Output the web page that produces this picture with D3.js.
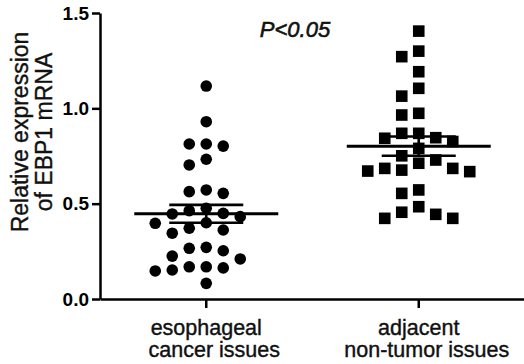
<!DOCTYPE html>
<html>
<head>
<meta charset="utf-8">
<script src="https://cdn.jsdelivr.net/npm/d3@7"></script>
<style>
  body { margin: 0; background: #fff; }
  text { font-family: "Liberation Sans", Arial, sans-serif; }
</style>
</head>
<body>
<svg id="chart" width="524" height="364"></svg>
<script>
// groups on the x axis
const categories = ["esophageal cancer issues", "adjacent non-tumor issues"]
const labelLines = [["esophageal", "cancer issues"], ["adjacent", "non-tumor issues"]]

// relative EBP1 mRNA per sample
const cancerValues = [1.117, 0.93, 0.813, 0.802, 0.813, 0.733, 0.703, 0.572, 0.554, 0.563,
    0.476, 0.449, 0.446, 0.463, 0.397, 0.371, 0.345, 0.362, 0.40, 0.432,
    0.266, 0.225, 0.21, 0.253, 0.271, 0.169, 0.152, 0.147, 0.163, 0.169, 0.082]
const normalValues = [1.405, 1.271, 1.30, 1.192, 1.105, 1.064, 0.974, 0.965, 0.843, 0.826,
    0.869, 0.869, 0.846, 0.79, 0.751, 0.729, 0.685, 0.671, 0.668, 0.676,
    0.685, 0.712, 0.572, 0.554, 0.484, 0.444, 0.423, 0.423, 0.455]

const yTicks = [0, 0.5, 1.0, 1.5]
const pText = "P<0.05"

const svg = d3.select("#chart")

const x = d3.scaleBand()
    .domain(categories)
    .range([100, 525])

const y = d3.scaleLinear()
    .domain([0, 1.5])
    .range([299, 13])

// simple column swarm, like the prism dot plot
function swarm(values, cx){
    const step = 17
    const minDist = 13.5
    const placed = []
    const sorted = values.slice().sort((a, b) => b - a)
    sorted.forEach(v => {
        const py = y(v)
        for (let k = 0; k < 20; k++){
            const slot = k === 0 ? 0 : (k % 2 === 1 ? -Math.ceil(k / 2) : Math.ceil(k / 2))
            const px = cx + slot * step
            const hit = placed.some(p => Math.hypot(p.x - px, p.y - py) < minDist)
            if (!hit){
                placed.push({x: px, y: py, v: v})
                break
            }
        }
    })
    return placed
}

const cx0 = x(categories[0]) + x.bandwidth() / 2
const cx1 = x(categories[1]) + x.bandwidth() / 2

const dots0 = swarm(cancerValues, cx0)
const dots1 = swarm(normalValues, cx1)

svg.append("g").selectAll("circle")
    .data(dots0)
    .join("circle")
    .attr("cx", d => d.x)
    .attr("cy", d => d.y)
    .attr("r", 5.8)
    .attr("fill", "#000")

svg.append("g").selectAll("rect")
    .data(dots1)
    .join("rect")
    .attr("x", d => d.x - 5.8)
    .attr("y", d => d.y - 5.8)
    .attr("width", 11.6)
    .attr("height", 11.6)
    .attr("fill", "#000")

// mean and sem bars
function stats(values){
    const m = d3.mean(values)
    const sem = d3.deviation(values) / Math.sqrt(values.length)
    return {m: m, sem: sem}
}

[[cancerValues, cx0], [normalValues, cx1]].forEach(([vals, cx]) => {
    const s = stats(vals)
    const g = svg.append("g").attr("stroke", "#000")
    g.append("line")
        .attr("x1", cx - 72).attr("x2", cx + 72)
        .attr("y1", y(s.m)).attr("y2", y(s.m))
        .attr("stroke-width", 3)
    g.append("line")
        .attr("x1", cx - 37).attr("x2", cx + 37)
        .attr("y1", y(s.m + s.sem)).attr("y2", y(s.m + s.sem))
        .attr("stroke-width", 2.6)
    g.append("line")
        .attr("x1", cx - 37).attr("x2", cx + 37)
        .attr("y1", y(s.m - s.sem)).attr("y2", y(s.m - s.sem))
        .attr("stroke-width", 2.6)
    g.append("line")
        .attr("x1", cx).attr("x2", cx)
        .attr("y1", y(s.m + s.sem)).attr("y2", y(s.m - s.sem))
        .attr("stroke-width", 2.6)
})

// axes
const yAxis = svg.append("g")
    .attr("transform", "translate(100,0)")
    .call(d3.axisLeft(y).tickValues(yTicks).tickFormat(d3.format(".1f")).tickSize(8).tickSizeOuter(0).tickPadding(3))
yAxis.selectAll("path, line").attr("stroke", "#000").attr("stroke-width", 2.5)
yAxis.selectAll("text")
    .attr("font-size", 19)
    .attr("font-weight", "bold")
    .attr("fill", "#000")
    .style("font-family", "Liberation Sans, Arial, sans-serif")

const xAxis = svg.append("g")
    .attr("transform", "translate(0,299)")
    .call(d3.axisBottom(x).tickSize(9).tickSizeOuter(0).tickFormat(""))
xAxis.selectAll("path, line").attr("stroke", "#000").attr("stroke-width", 2.5)

xAxis.selectAll(".tick").each(function(d, i){
    labelLines[i].forEach((line, j) => {
        d3.select(this).append("text")
            .attr("fill", "#111")
            .attr("stroke", "#111")
            .attr("stroke-width", 0.4)
            .attr("font-size", 21.5)
            .attr("text-anchor", "middle")
            .style("font-family", "Liberation Sans, Arial, sans-serif")
            .attr("x", j === 0 ? 0 : 8)
            .attr("y", 36 + j * 22)
            .text(line)
    })
})

// y title
svg.append("text")
    .attr("transform", "translate(28,132) rotate(-90)")
    .attr("text-anchor", "middle")
    .attr("font-size", 23)
    .attr("fill", "#111")
    .attr("stroke", "#111")
    .attr("stroke-width", 0.4)
    .selectAll("tspan")
    .data(["Relative expression", "of EBP1 mRNA"])
    .join("tspan")
    .attr("x", 0)
    .attr("dy", (d, i) => i === 0 ? 0 : 24)
    .text(d => d)

svg.append("text")
    .attr("x", 295)
    .attr("y", 37)
    .attr("text-anchor", "middle")
    .attr("font-size", 22)
    .attr("font-style", "italic")
    .attr("fill", "#111")
    .attr("stroke", "#111")
    .attr("stroke-width", 0.6)
    .text(pText)
</script>
</body>
</html>
